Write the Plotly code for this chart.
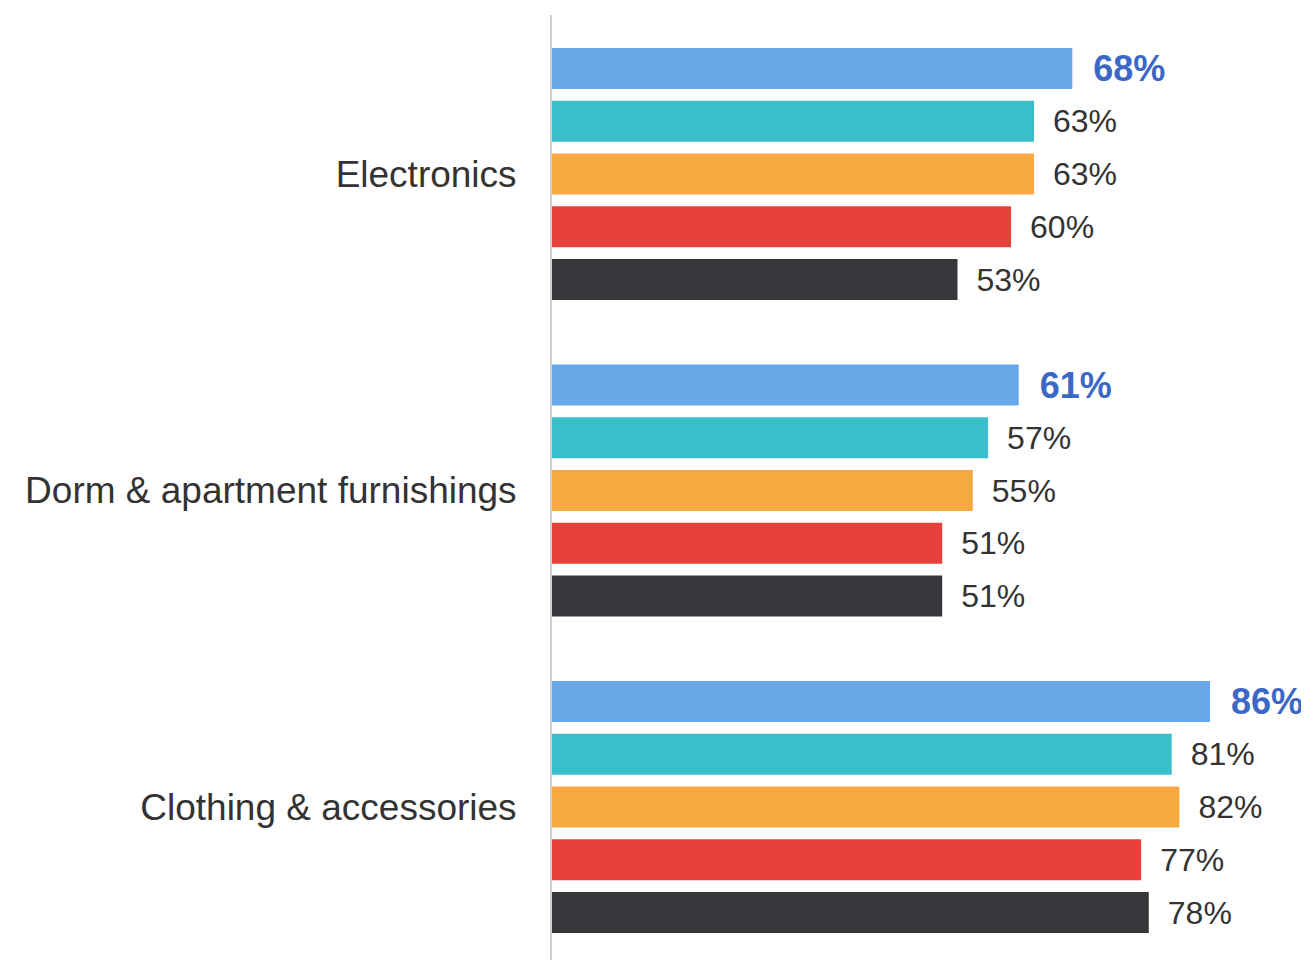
import plotly.graph_objects as go

categories = ["Electronics", "Dorm & apartment furnishings", "Clothing & accessories"]
series_names = ["Series 1", "Series 2", "Series 3", "Series 4", "Series 5"]
series_values = [
    [68, 61, 86],
    [63, 57, 81],
    [63, 55, 82],
    [60, 51, 77],
    [53, 51, 78],
]
colors = ["#68a8e8", "#3bbecb", "#f8a940", "#e8403a", "#39363b"]

fig = go.Figure()
for i, (name, vals, col) in enumerate(zip(series_names, series_values, colors)):
    highlight = i == 0
    fig.add_trace(go.Bar(
        y=categories,
        x=vals,
        name=name,
        orientation="h",
        marker=dict(color=col, line=dict(width=0)),
        text=[f"\u2002{v}%" for v in vals],
        textposition="outside",
        cliponaxis=False,
        constraintext="none",
        outsidetextfont=dict(
            family="Liberation Sans, Arial, sans-serif",
            size=36 if highlight else 32,
            color="#3b68c6" if highlight else "#333333",
            weight="bold" if highlight else "normal",
        ),
        hoverinfo="skip",
    ))

fig.update_layout(
    width=1301,
    height=952,
    barmode="group",
    bargap=0.1667,
    bargroupgap=0.2227,
    showlegend=False,
    paper_bgcolor="white",
    plot_bgcolor="white",
    margin=dict(l=544, r=0, t=7, b=0),
    font=dict(family="Liberation Sans, Arial, sans-serif", color="#333333"),
    xaxis=dict(range=[0, 98.94], visible=False, fixedrange=True),
    yaxis=dict(
        type="category",
        categoryorder="array",
        categoryarray=categories,
        range=[2.4834, -0.5024],
        showline=True,
        linecolor="#d0d0d0",
        linewidth=2,
        showgrid=False,
        ticks="",
        ticklabelstandoff=26,
        tickfont=dict(size=37, color="#333333"),
        zeroline=False,
    ),
)

fig.write_html("out.html")
